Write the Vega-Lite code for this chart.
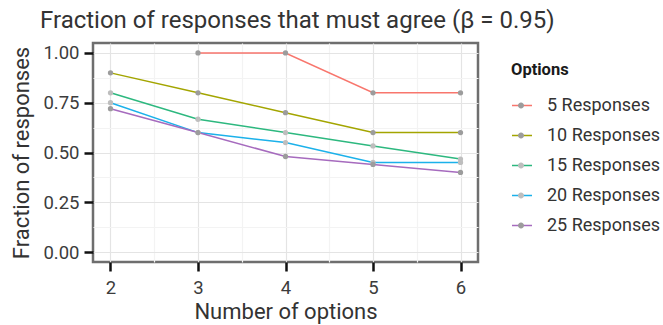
{
  "$schema": "https://vega.github.io/schema/vega-lite/v6.json",
  "width": 385,
  "height": 219,
  "autosize": {"type": "none"},
  "padding": {"left": 93, "top": 43, "right": 185, "bottom": 63},
  "background": "white",
  "title": {
    "text": "Fraction of responses that must agree (β = 0.95)",
    "anchor": "start",
    "frame": "group",
    "dx": -53,
    "offset": 10,
    "fontSize": 24,
    "fontWeight": "normal",
    "color": "#333333"
  },
  "config": {
    "font": "Roboto",
    "view": {"stroke": "#6e6e6e", "strokeWidth": 2.5},
    "axis": {
      "domain": false,
      "tickColor": "#111111",
      "tickWidth": 2.5,
      "tickSize": 9,
      "labelColor": "#3c3c3c",
      "labelFontSize": 18.5,
      "titleColor": "#333333",
      "titleFontSize": 22,
      "titleFontWeight": "normal",
      "gridWidth": 1.2
    }
  },
  "data": {
    "values": [
      {"n": 3, "frac": 1.0, "series": "5 Responses"},
      {"n": 4, "frac": 1.0, "series": "5 Responses"},
      {"n": 5, "frac": 0.8, "series": "5 Responses"},
      {"n": 6, "frac": 0.8, "series": "5 Responses"},
      {"n": 2, "frac": 0.9, "series": "10 Responses"},
      {"n": 3, "frac": 0.8, "series": "10 Responses"},
      {"n": 4, "frac": 0.7, "series": "10 Responses"},
      {"n": 5, "frac": 0.6, "series": "10 Responses"},
      {"n": 6, "frac": 0.6, "series": "10 Responses"},
      {"n": 2, "frac": 0.8, "series": "15 Responses"},
      {"n": 3, "frac": 0.667, "series": "15 Responses"},
      {"n": 4, "frac": 0.6, "series": "15 Responses"},
      {"n": 5, "frac": 0.533, "series": "15 Responses"},
      {"n": 6, "frac": 0.467, "series": "15 Responses"},
      {"n": 2, "frac": 0.75, "series": "20 Responses"},
      {"n": 3, "frac": 0.6, "series": "20 Responses"},
      {"n": 4, "frac": 0.55, "series": "20 Responses"},
      {"n": 5, "frac": 0.45, "series": "20 Responses"},
      {"n": 6, "frac": 0.45, "series": "20 Responses"},
      {"n": 2, "frac": 0.72, "series": "25 Responses"},
      {"n": 3, "frac": 0.6, "series": "25 Responses"},
      {"n": 4, "frac": 0.48, "series": "25 Responses"},
      {"n": 5, "frac": 0.44, "series": "25 Responses"},
      {"n": 6, "frac": 0.4, "series": "25 Responses"}
    ]
  },
  "encoding": {
    "x": {
      "field": "n",
      "type": "quantitative",
      "scale": {"domain": [1.8, 6.2], "nice": false, "zero": false},
      "axis": {
        "title": "Number of options",
        "values": [2, 2.5, 3, 3.5, 4, 4.5, 5, 5.5, 6],
        "labelExpr": "datum.value % 1 == 0 ? datum.value : ''",
        "tickOpacity": {"condition": {"test": "datum.value % 1 != 0", "value": 0}, "value": 1},
        "gridColor": {"condition": {"test": "datum.value % 1 != 0", "value": "#f3f3f3"}, "value": "#e4e4e4"},
        "labelPadding": 7,
        "titlePadding": 5
      }
    },
    "y": {
      "field": "frac",
      "type": "quantitative",
      "scale": {"domain": [-0.05, 1.05], "nice": false, "zero": false},
      "axis": {
        "title": "Fraction of responses",
        "values": [0, 0.125, 0.25, 0.375, 0.5, 0.625, 0.75, 0.875, 1],
        "labelExpr": "(datum.value * 8) % 2 == 0 ? format(datum.value, '.2f') : ''",
        "tickOpacity": {"condition": {"test": "(datum.value * 8) % 2 != 0", "value": 0}, "value": 1},
        "gridColor": {"condition": {"test": "(datum.value * 8) % 2 != 0", "value": "#f3f3f3"}, "value": "#e4e4e4"},
        "labelPadding": 5,
        "titlePadding": 9
      }
    }
  },
  "layer": [
    {
      "mark": {"type": "line", "strokeWidth": 1.5},
      "encoding": {
        "color": {
          "field": "series",
          "type": "nominal",
          "scale": {
            "domain": ["5 Responses", "10 Responses", "15 Responses", "20 Responses", "25 Responses"],
            "range": ["#F8766D", "#A3A500", "#2DB87F", "#1BB1EA", "#A66BBE"]
          },
          "legend": {
            "title": "Options",
            "orient": "none",
            "legendX": 418,
            "legendY": 19,
            "padding": 0,
            "symbolType": "stroke",
            "symbolSize": 400,
            "symbolStrokeWidth": 1.5,
            "labelOffset": 14,
            "labelFontSize": 18,
            "labelColor": "#333333",
            "titleFontSize": 16.5,
            "titleFontWeight": "bold",
            "titleColor": "#1a1a1a",
            "titlePadding": 12,
            "clipHeight": 30,
            "rowPadding": 0
          }
        }
      }
    },
    {
      "mark": {"type": "point", "filled": true, "size": 28, "opacity": 1},
      "encoding": {
        "color": {
          "field": "series",
          "type": "nominal",
          "scale": {
            "domain": ["5 Responses", "10 Responses", "15 Responses", "20 Responses", "25 Responses"],
            "range": ["#9c9c9c", "#9c9c9c", "#bebebe", "#bebebe", "#9c9c9c"]
          },
          "legend": {
            "title": " ",
            "orient": "none",
            "legendX": 418,
            "legendY": 19,
            "padding": 0,
            "symbolType": "M-0.3,0A0.3,0.3,0,1,1,0.3,0A0.3,0.3,0,1,1,-0.3,0Z",
            "symbolSize": 400,
            "symbolStrokeWidth": 0,
            "symbolOpacity": 1,
            "labelOffset": 14,
            "labelFontSize": 18,
            "labelExpr": "''",
            "titleFontSize": 16.5,
            "titleFontWeight": "bold",
            "titlePadding": 12,
            "clipHeight": 30,
            "rowPadding": 0
          }
        }
      }
    }
  ],
  "resolve": {"scale": {"color": "independent"}, "legend": {"color": "independent"}}
}
